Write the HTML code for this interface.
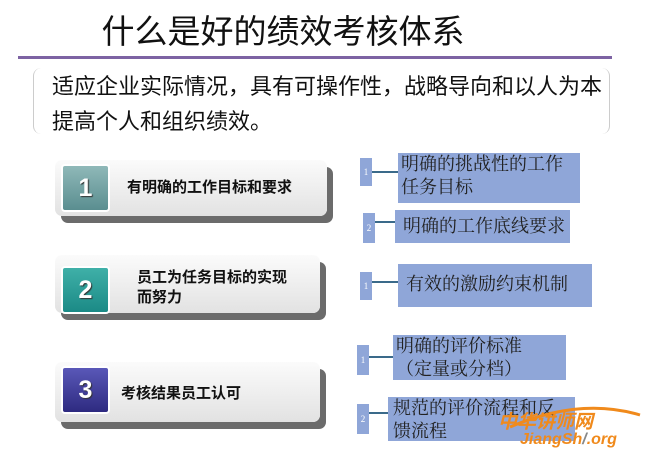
<!DOCTYPE html>
<html><head><meta charset="utf-8"><style>
body{margin:0;width:650px;height:456px;background:#fff;position:relative;overflow:hidden;font-family:"Liberation Sans","Noto Sans CJK SC",sans-serif}
.a{position:absolute}
.title{left:0;width:566px;text-align:center;top:5px;font-size:33px;color:#111}
.line{left:18px;top:56px;width:594px;height:3px;background:#7d63a3}
.sub{left:33px;top:68px;width:577px;height:66px;border-left:1px solid #ccc;border-right:1px solid #ccc;border-radius:8px;font-size:22px;line-height:35px;padding-left:18px;box-sizing:border-box;color:#111;padding-top:1px;white-space:nowrap}
.lb{border-radius:7px;background:linear-gradient(#fbfbfb,#e2e2e2);box-shadow:6px 7px 0 #6b6b6b;}
.num{border-radius:4px;color:#fff;font-size:25px;font-weight:bold;text-align:center;line-height:44px;width:45px;height:44px;text-shadow:1px 1px 1px #333;border:2px solid #fff}
.lt{font-size:15px;font-weight:bold;color:#111;line-height:20px}
.tab{background:#8fa6d8;color:#fff;font-size:9px;width:12px;text-align:center;font-family:"Liberation Serif",serif}
.bx{background:#8fa6d8;font-family:"Liberation Serif","Noto Serif CJK SC",serif;font-size:18px;color:#222;line-height:23px;padding-left:3px;box-sizing:border-box;white-space:nowrap}
.cn{height:2px;background:#3a6a8a}
</style></head><body>
<div class="a title">什么是好的绩效考核体系</div>
<div class="a line"></div>
<div class="a sub">适应企业实际情况，具有可操作性，战略导向和以人为本<br>提高个人和组织绩效。</div>

<div class="a lb" style="left:55px;top:160px;width:272px;height:56px"></div>
<div class="a num" style="left:61px;top:164px;background:linear-gradient(#8fb8b8,#5a8e90)">1</div>
<div class="a lt" style="left:127px;top:178px">有明确的工作目标和要求</div>

<div class="a lb" style="left:55px;top:255px;width:265px;height:58px"></div>
<div class="a num" style="left:61px;top:266px;background:linear-gradient(#3fb0a8,#1b8a86)">2</div>
<div class="a lt" style="left:137px;top:268px">员工为任务目标的实现<br>而努力</div>

<div class="a lb" style="left:55px;top:362px;width:265px;height:60px"></div>
<div class="a num" style="left:61px;top:366px;background:linear-gradient(#5a58b8,#2e2a80)">3</div>
<div class="a lt" style="left:121px;top:384px">考核结果员工认可</div>

<div class="a tab" style="left:360px;top:158px;height:28px;line-height:28px">1</div>
<div class="a cn" style="left:372px;top:171px;width:27px"></div>
<div class="a bx" style="left:398px;top:153px;width:182px;height:50px">明确的挑战性的工作<br>任务目标</div>

<div class="a tab" style="left:363px;top:213px;height:30px;line-height:30px">2</div>
<div class="a cn" style="left:375px;top:221px;width:20px"></div>
<div class="a bx" style="left:395px;top:210px;width:175px;height:33px;line-height:33px;padding-left:8px">明确的工作底线要求</div>

<div class="a tab" style="left:360px;top:272px;height:28px;line-height:28px">1</div>
<div class="a cn" style="left:372px;top:281px;width:26px"></div>
<div class="a bx" style="left:398px;top:264px;width:194px;height:43px;line-height:40px;padding-left:8px">有效的激励约束机制</div>

<div class="a tab" style="left:357px;top:345px;height:30px;line-height:30px">1</div>
<div class="a cn" style="left:369px;top:356px;width:25px"></div>
<div class="a bx" style="left:393px;top:335px;width:173px;height:45px">明确的评价标准<br>（定量或分档）</div>

<div class="a tab" style="left:357px;top:404px;height:30px;line-height:30px">2</div>
<div class="a cn" style="left:369px;top:412px;width:20px"></div>
<div class="a bx" style="left:388px;top:397px;width:187px;height:44px;padding-left:5px">规范的评价流程和反<br>馈流程</div>

<svg class="a" style="left:490px;top:405px" width="160" height="51"><path d="M20 22 Q90 -8 150 10" stroke="#f08a1c" stroke-width="3" fill="none"/></svg>
<div class="a" style="left:498px;top:407px;font-size:19px;font-weight:bold;color:#f08a1c;font-style:italic">中华讲师网</div>
<div class="a" style="left:520px;top:431px;font-size:16px;font-weight:bold;color:#f08a1c;font-style:italic">JiangSh<span style="color:#888">/</span>.org</div>
</body></html>
